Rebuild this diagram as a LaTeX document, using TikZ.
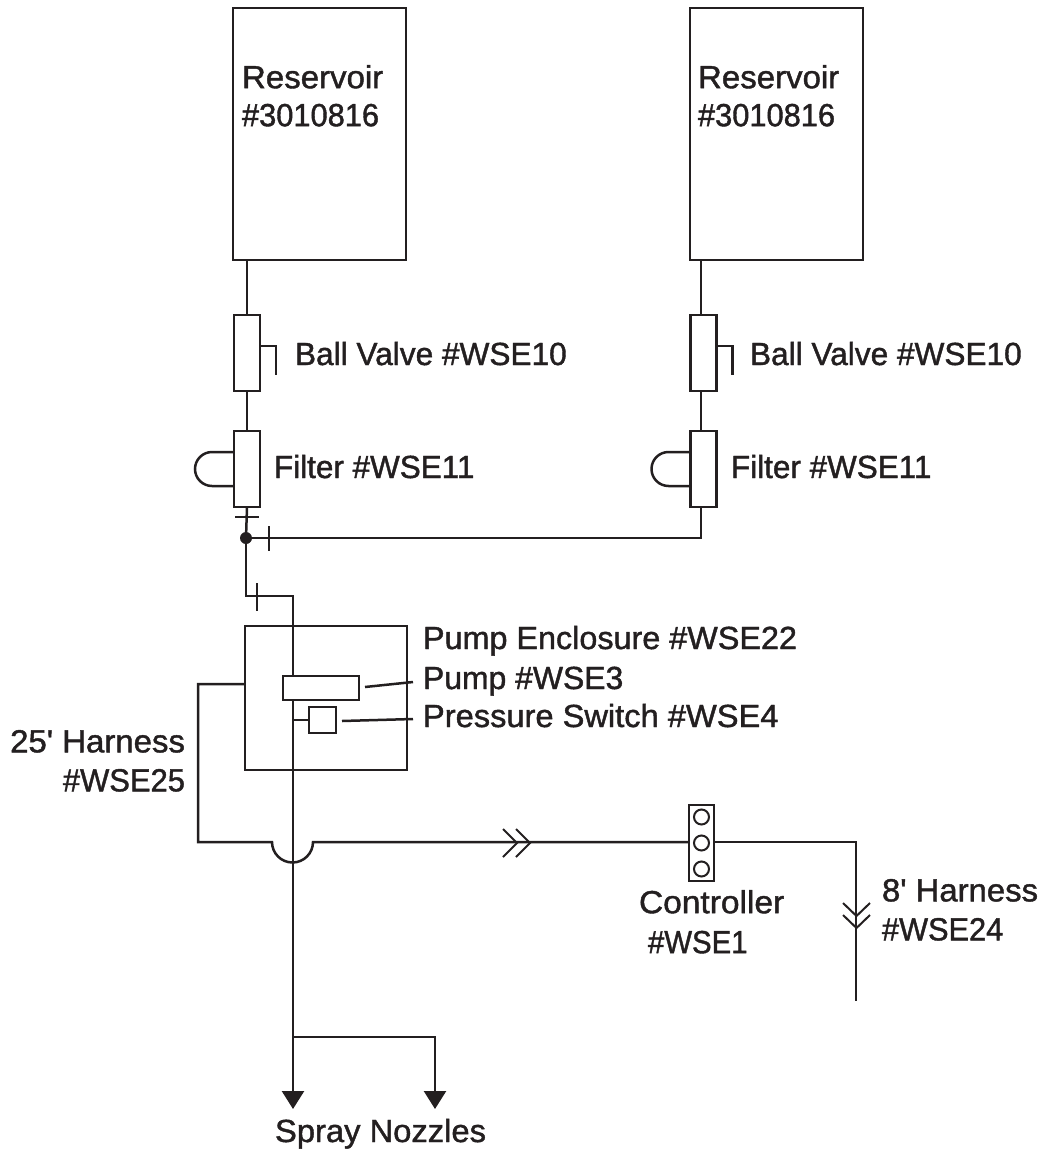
\documentclass[tikz,border=0pt]{standalone}
\usepackage{fontspec}
\usepackage{graphicx}
\setmainfont{Liberation Sans}
\newfontfamily\labelfont{Liberation Sans}[FakeBold=1.3]
\newcommand{\sx}[2]{\scalebox{#1}[1]{#2}}
\usetikzlibrary{arrows.meta}
\definecolor{ink}{HTML}{231F20}
\tikzset{
  part/.style={draw=ink,fill=white,line width=2.5pt,inner sep=0pt,outer sep=0pt},
  wire/.style={draw=ink,line width=2.5pt,line join=miter},
  thin wire/.style={draw=ink,line width=2pt},
  nozzle/.style={wire,-{Triangle[length=18pt,width=22pt]}},
  lbl/.style={text=ink,inner sep=0pt,outer sep=0pt,anchor=base west,
    font=\fontsize{32}{38}\selectfont\labelfont},
  lblml/.style={lbl,anchor=north west,align=left},
  lblmr/.style={lbl,anchor=north east,align=right},
  lamp/.style={circle,draw=ink,line width=2pt,minimum size=15pt,inner sep=0pt,outer sep=0pt}
}
\begin{document}
\begin{tikzpicture}[x=1pt,y=-1pt]
\useasboundingbox (0,0) rectangle (1047,1154);
% reservoirs
\node[part,minimum width=173pt,minimum height=252pt] (res1) at (319.5,134) {};
\node[part,minimum width=173pt,minimum height=252pt] (res2) at (776.5,134) {};
% valves
\node[part,minimum width=26pt,minimum height=76pt] (valve1) at (247,353) {};
\node[part,minimum width=26pt,minimum height=76pt] (valve2) at (703.5,353) {};
% filters
\node[part,minimum width=26pt,minimum height=76pt] (filter1) at (247,469) {};
\node[part,minimum width=26pt,minimum height=76pt] (filter2) at (703.5,469) {};
\coordinate (in1) at (247,260);
\coordinate (in2) at (701,260);
\draw[wire] (in1) -- (in1 |- valve1.north);
\draw[wire] (in2) -- (in2 |- valve2.north);
\draw[wire] (in1 |- valve1.south) -- (in1 |- filter1.north);
\draw[wire] (in2 |- valve2.south) -- (in2 |- filter2.north);
% valve handles
\draw[wire] ([yshift=7pt]valve1.east) -- ++(16,0) -- ++(0,29);
\draw[wire] ([yshift=7pt]valve2.east) -- ++(16,0) -- ++(0,29);
% filter bumps
\draw[wire] ([yshift=17pt]filter1.west) -- ++(-22,0) arc[start angle=90,end angle=270,radius=17pt] -- ++(22,0);
\draw[wire] ([yshift=17pt]filter2.west) -- ++(-22,0) arc[start angle=90,end angle=270,radius=17pt] -- ++(22,0);
% junction
\node[circle,fill=ink,minimum size=12pt,inner sep=0pt,outer sep=0pt] (junction) at (246,538) {};
\coordinate (elbow) at (246,596);
\coordinate (main top) at (293,596);
\coordinate (main end) at (293,1109);
\coordinate (right elbow) at (701,538);
\draw[wire] (in1 |- filter1.south) -- (junction.center);
\draw[wire] (junction.center) -- (right elbow) -- (in2 |- filter2.south);
\draw[thin wire] (235,517) -- (259,517);
\draw[thin wire] (269,526) -- (269,551);
\draw[thin wire] (257,583) -- (257,611);
% enclosure and main line
\node[part,fill=none,minimum width=162pt,minimum height=144pt] (encl) at (326,698) {};
\draw[wire] (junction.center) -- (elbow) -- (main top) -- (main top |- 0,1091);
% nozzles
\coordinate (branch) at (293,1037);
\coordinate (branch end) at (435,1037);
\draw[nozzle] (branch) -- (main end);
\draw[nozzle] (branch) -- (branch end) -- (435,1109);
% pump and switch
\node[part,minimum width=76pt,minimum height=24pt] (pump) at (321,688) {};
\node[part,minimum width=27pt,minimum height=26pt] (switch) at (322.5,720) {};
\draw[wire] (main top |- switch.west) -- (switch.west);
\draw[wire] (365,687) -- (413,682);
\draw[wire] (342,721) -- (413,719);
% harness
\node[part,minimum width=25pt,minimum height=76pt] (ctrl) at (701.5,843) {};
\node[lamp] (lampa) at (701.5,817) {};
\node[lamp] (lampb) at (701.5,843) {};
\node[lamp] (lampc) at (701.5,869) {};
\coordinate (h1) at (198,684);
\coordinate (h2) at (198,842);
\coordinate (h3) at (272,842);
\draw[wire] (encl.west |- h1) -- (h1) -- (h2) -- (h3) arc[start angle=180,end angle=360,radius=20.5pt] -- (ctrl.west |- h2);
\coordinate (h4) at (856,842);
\coordinate (h5) at (856,1001);
\draw[wire] (ctrl.east |- h4) -- (h4) -- (h5);
% connector chevrons
\draw[thin wire] (503,829) -- (517,843) -- (503,857);
\draw[thin wire] (516,829) -- (530,843) -- (516,857);
\draw[thin wire] (843,903) -- (856.5,916) -- (870,903);
\draw[thin wire] (843,915) -- (856.5,928) -- (870,915);
% labels
\node[lblml] (lres1) at (242,65) {\sx{1.032}{Reservoir}\\\sx{.963}{\#3010816}};
\node[lblml] (lres2) at (698,65) {\sx{1.032}{Reservoir}\\\sx{.963}{\#3010816}};
\node[lbl] (lball1) at (295,365) {\sx{.988}{Ball Valve \#WSE10}};
\node[lbl] (lball2) at (750,365) {\sx{.988}{Ball Valve \#WSE10}};
\node[lbl] (lfil1) at (274,478) {\sx{.983}{Filter \#WSE11}};
\node[lbl] (lfil2) at (731,478) {\sx{.983}{Filter \#WSE11}};
\node[lbl] (lencl) at (423,649) {\sx{1.011}{Pump Enclosure \#WSE22}};
\node[lbl] (lpump) at (423,689) {\sx{.997}{Pump \#WSE3}};
\node[lbl] (lsw) at (423,727) {\sx{1.02}{Pressure Switch \#WSE4}};
\node[lblmr] (lh25) at (185,730) {\sx{1.03}{25' Harness}\\[1pt]\sx{.967}{\#WSE25}};
\node[lblml] (lctrl) at (639,890) {\sx{1.047}{Controller}\\[2pt]\hspace*{9pt}\sx{.918}{\#WSE1}};
\node[lblml] (lh8) at (882,879) {\sx{1.027}{8' Harness}\\[1pt]\sx{.96}{\#WSE24}};
\node[lbl] (lspray) at (275,1142) {\sx{1.023}{Spray Nozzles}};
\end{tikzpicture}
\end{document}
